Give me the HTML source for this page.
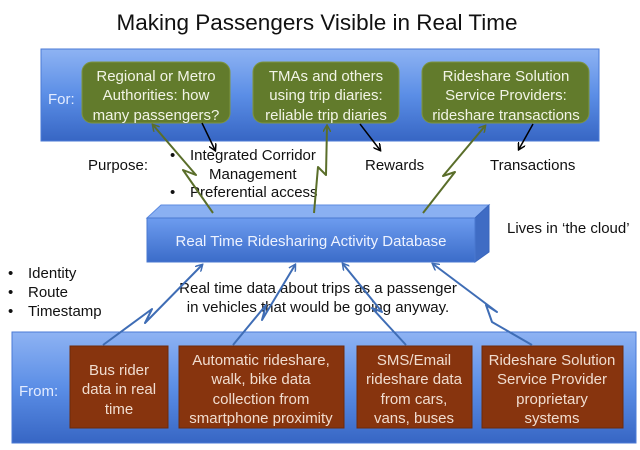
<!DOCTYPE html>
<html><head><meta charset="utf-8"><style>
html,body{margin:0;padding:0;background:#fff;}
svg{display:block;font-family:"Liberation Sans",sans-serif;}
</style></head><body>
<svg width="640" height="450" viewBox="0 0 640 450" xmlns="http://www.w3.org/2000/svg">
<defs>
<linearGradient id="bl" x1="0" y1="0" x2="0" y2="1">
<stop offset="0" stop-color="#8eb3f3"/><stop offset="0.5" stop-color="#5b8ee6"/><stop offset="1" stop-color="#3766c4"/>
</linearGradient>
<linearGradient id="db" x1="0" y1="0" x2="0" y2="1">
<stop offset="0" stop-color="#6d9cef"/><stop offset="1" stop-color="#3b6cc9"/>
</linearGradient>
<marker id="ab" markerWidth="8" markerHeight="8" refX="6" refY="4" orient="auto" markerUnits="userSpaceOnUse"><path d="M0,0 L7,4 L0,8" fill="none" stroke="#000" stroke-width="1.5"/></marker>
<marker id="ag" markerWidth="8" markerHeight="8" refX="6" refY="4" orient="auto" markerUnits="userSpaceOnUse"><path d="M0,0 L7,4 L0,8" fill="none" stroke="#5a6e2a" stroke-width="1.5"/></marker>
<marker id="au" markerWidth="8" markerHeight="8" refX="6" refY="4" orient="auto" markerUnits="userSpaceOnUse"><path d="M0,0 L7,4 L0,8" fill="none" stroke="#3f6db5" stroke-width="1.5"/></marker>
</defs>

<text x="317" y="30" font-size="22.5" text-anchor="middle" fill="#111">Making Passengers Visible in Real Time</text>

<rect x="41" y="49" width="558" height="92" fill="url(#bl)" stroke="#4a7ad6" stroke-width="1"/>
<text x="48" y="104" font-size="15" fill="#e4ecff">For:</text>
<g fill="#627b2c" stroke="#7d9440" stroke-width="1">
<rect x="82" y="62" width="148" height="61" rx="10"/>
<rect x="253" y="62" width="146" height="61" rx="10"/>
<rect x="422" y="62" width="167" height="61" rx="10"/>
</g>
<g font-size="15" fill="#f2f4e6" text-anchor="middle">
<text x="156" y="81">Regional or Metro</text><text x="156" y="100">Authorities: how</text><text x="156" y="120">many passengers?</text>
<text x="326" y="81">TMAs and others</text><text x="326" y="100">using trip diaries:</text><text x="326" y="120">reliable trip diaries</text>
<text x="506" y="81">Rideshare Solution</text><text x="506" y="100">Service Providers:</text><text x="506" y="120">rideshare transactions</text>
</g>

<g stroke="#000" stroke-width="1.5" fill="none" marker-end="url(#ab)">
<line x1="202" y1="123" x2="215" y2="150"/>
<line x1="360" y1="124" x2="380" y2="150"/>
<line x1="533" y1="124" x2="519" y2="149"/>
</g>

<g font-size="15" fill="#111">
<text x="88" y="170">Purpose:</text>
<text x="170" y="160">•</text><text x="190" y="160">Integrated Corridor</text>
<text x="209" y="179">Management</text>
<text x="170" y="197">•</text><text x="190" y="197">Preferential access</text>
<text x="365" y="170">Rewards</text>
<text x="490" y="170">Transactions</text>
<text x="507" y="233">Lives in ‘the cloud’</text>
<text x="8" y="278">•</text><text x="28" y="278">Identity</text>
<text x="8" y="297">•</text><text x="28" y="297">Route</text>
<text x="8" y="316">•</text><text x="28" y="316">Timestamp</text>
<text x="318" y="293" text-anchor="middle">Real time data about trips as a passenger</text>
<text x="318" y="312" text-anchor="middle">in vehicles that would be going anyway.</text>
</g>

<polygon points="147,218 161,205 489,205 475,218" fill="#8ab0f2" stroke="#5d8be0"/>
<polygon points="475,218 489,205 489,252 475,262" fill="#3f6cc4" stroke="#3a66bd"/>
<rect x="147" y="218" width="328" height="44" fill="url(#db)" stroke="#4a78d0"/>
<text x="311" y="246" font-size="15" fill="#eef3ff" text-anchor="middle">Real Time Ridesharing Activity Database</text>

<g stroke="#5a6e2a" stroke-width="2" fill="none" stroke-linejoin="round" marker-end="url(#ag)">
<polyline points="213,213 183,170 196,175 153,125"/>
<polyline points="314,213 318,167 326,175 327,126"/>
<polyline points="423,213 455,172 443,176 485,126"/>
</g>

<rect x="12" y="332" width="624" height="111" fill="url(#bl)" stroke="#4a7ad6"/>
<text x="19" y="396" font-size="15" fill="#e4ecff">From:</text>
<g fill="#87340e" stroke="#6e2a0b">
<rect x="70" y="346" width="98" height="82"/>
<rect x="179" y="346" width="165" height="82"/>
<rect x="357" y="346" width="115" height="82"/>
<rect x="482" y="346" width="141" height="82"/>
</g>
<g font-size="15" fill="#f0dccf" text-anchor="middle">
<text x="119" y="375">Bus rider</text><text x="119" y="394">data in real</text><text x="119" y="414">time</text>
<text x="261" y="365">Automatic rideshare,</text><text x="261" y="384">walk, bike data</text><text x="261" y="404">collection from</text><text x="261" y="423">smartphone proximity</text>
<text x="414" y="365">SMS/Email</text><text x="414" y="384">rideshare data</text><text x="414" y="404">from cars,</text><text x="414" y="423">vans, buses</text>
<text x="552" y="365">Rideshare Solution</text><text x="552" y="384">Service Provider</text><text x="552" y="404">proprietary</text><text x="552" y="423">systems</text>
</g>

<g stroke="#3f6db5" stroke-width="2" fill="none" stroke-linejoin="round" marker-end="url(#au)">
<polyline points="103,345 152,309 145,323 202,265"/>
<polyline points="233,345 266,305 262,320 295,265"/>
<polyline points="406,345 372,308 382,312 343,264"/>
<polyline points="532,345 492,322 486,305 497,312 433,264"/>
</g>
</svg>
</body></html>
